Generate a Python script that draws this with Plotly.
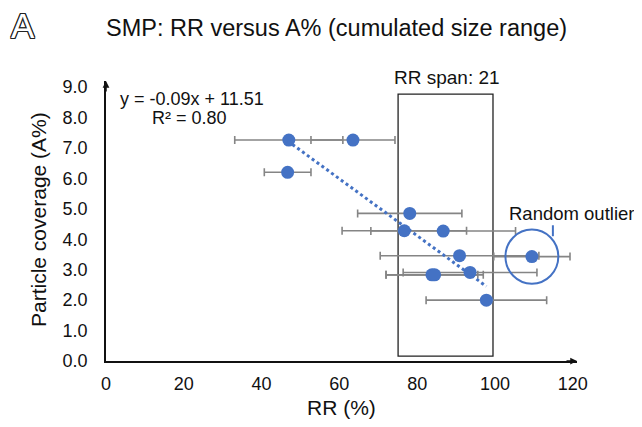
import numpy as np
import plotly.graph_objects as go

# ---- data ----
rr = [47.0, 63.5, 46.7, 78.1, 76.7, 86.7, 90.9, 83.8, 84.5, 93.6, 97.8]
rr_err = [13.9, 10.8, 6.0, 13.4, 16.0, 18.6, 20.4, 11.8, 12.5, 17.2, 15.5]
coverage = [7.26, 7.26, 6.2, 4.85, 4.28, 4.27, 3.46, 2.83, 2.83, 2.91, 2.0]

outlier_rr = [109.5]
outlier_err = [9.8]
outlier_cov = [3.43]

x_ticks = [0, 20, 40, 60, 80, 100, 120]
y_ticks = [0, 1, 2, 3, 4, 5, 6, 7, 8, 9]

span_box = dict(x0=75.1, x1=99.5, y0=0.16, y1=8.77)

BLUE = "#4472C4"
GREY = "#858585"
FONT = "Liberation Sans, Arial, sans-serif"

OFF = 8  # page body margin of the html page
FW, FH = 642 - OFF, 427 - OFF

fig = go.Figure()

fig.add_trace(go.Scatter(
    x=rr, y=coverage, mode="markers",
    marker=dict(color=BLUE, size=13),
    error_x=dict(type="data", array=rr_err, color=GREY, thickness=1.6, width=4),
    showlegend=False, cliponaxis=False))
fig.add_trace(go.Scatter(
    x=outlier_rr, y=outlier_cov, mode="markers",
    marker=dict(color=BLUE, size=13),
    error_x=dict(type="data", array=outlier_err, color=GREY, thickness=1.6, width=4),
    showlegend=False, cliponaxis=False))

# linear trend (fitted on main series)
slope, icpt = np.polyfit(rr, coverage, 1)
tx = np.array([min(rr), max(rr)])
fig.add_trace(go.Scatter(
    x=tx, y=slope * tx + icpt, mode="lines",
    line=dict(color=BLUE, width=3, dash="dot"),
    showlegend=False, hoverinfo="skip"))

fig.add_shape(type="rect", xref="x", yref="y", line=dict(color="#222", width=1.3),
              fillcolor="rgba(0,0,0,0)", layer="below", **span_box)

fig.add_shape(type="circle", xref="x", yref="y",
              x0=outlier_rr[0] - 6.8, x1=outlier_rr[0] + 6.8,
              y0=outlier_cov[0] - 0.89, y1=outlier_cov[0] + 0.89,
              line=dict(color=BLUE, width=2))
fig.add_shape(type="line", xref="x", yref="y",
              x0=114.9, x1=114.9, y0=4.1, y1=4.46,
              line=dict(color=BLUE, width=2))

# plot area in page pixels
W0, W1, H0, H1 = 106, 577, 81, 361
def px(x):
    return (x - W0) / (W1 - W0)
def py(y):
    return (H1 - y) / (H1 - H0)

def txt(x, y, s, size, **kw):
    d = dict(x=px(x), y=py(y), xref="paper", yref="paper", text=s, showarrow=False,
             font=dict(size=size, family=FONT, color="#111"),
             xanchor="center", yanchor="middle")
    d.update(kw)
    return d

ann = [
    txt(192, 99, "y = -0.09x + 11.51", 18),
    txt(189, 118, "R² = 0.80", 18),
    txt(447, 77, "RR span: 21", 19),
    txt(507, 213, "Random outlier", 18.5, xanchor="left"),
    txt(341.5, 407, "RR (%)", 21),
    txt(38, 220, "Particle coverage (A%)", 21, textangle=-90),
    txt(336, 28, "SMP: RR versus A% (cumulated size range)", 23.5),
    txt(23, 25, "A", 35),
]
ann[-1]["font"] = dict(size=35, family=FONT, color="white",
                       shadow="1px 0 0 #222, -1px 0 0 #222, 0 1px 0 #222, 0 -1px 0 #222, "
                              "1px 1px 0 #222, -1px -1px 0 #222, 1px -1px 0 #222, -1px 1px 0 #222")
ann.append(dict(x=121.1, y=0, xref="x", yref="y", ax=-12, ay=0, text="", showarrow=True,
                arrowhead=2, arrowsize=0.9, arrowwidth=1.5, arrowcolor="#111"))
ann.append(dict(x=0, y=9.2, xref="x", yref="y", ax=0, ay=12, text="", showarrow=True,
                arrowhead=2, arrowsize=0.9, arrowwidth=1.5, arrowcolor="#111"))

fig.update_layout(
    width=FW, height=FH,
    margin=dict(l=W0 - OFF, r=642 - W1, t=H0 - OFF, b=427 - H1),
    paper_bgcolor="white", plot_bgcolor="white",
    font=dict(family=FONT, color="#111", size=18),
    annotations=ann,
    xaxis=dict(range=[0, 121.1], tickvals=x_ticks, ticktext=[str(v) for v in x_ticks],
               showgrid=False, zeroline=False, showline=True, linecolor="#111", linewidth=1.5,
               ticks="outside", ticklen=6, tickcolor="rgba(0,0,0,0)",
               tickfont=dict(size=18, family=FONT, color="#111")),
    yaxis=dict(range=[0, 9.2], tickvals=y_ticks, ticktext=[f"{v:.1f}" for v in y_ticks],
               showgrid=False, zeroline=False, showline=True, linecolor="#111", linewidth=1.5,
               ticks="outside", ticklen=13, tickcolor="rgba(0,0,0,0)",
               tickfont=dict(size=18, family=FONT, color="#111")),
)

fig.write_html("out.html")
